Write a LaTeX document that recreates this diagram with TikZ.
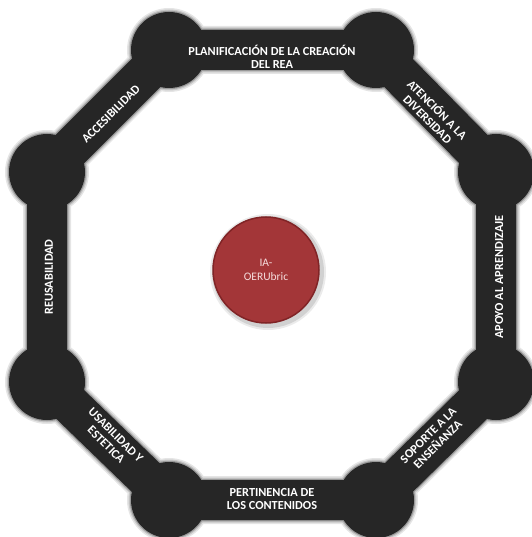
\documentclass[tikz,border=0pt]{standalone}
\usepackage{fontspec}
\setmainfont{Carlito}
\definecolor{ringc}{RGB}{38,38,38}
\definecolor{hubc}{RGB}{163,54,56}
\definecolor{hubedge}{RGB}{128,36,38}
\definecolor{hubtext}{RGB}{245,220,220}
\tikzset{
  vtx/.style={circle,inner sep=0pt,minimum size=76pt},
  band/.style={line width=40pt,line cap=round},
  lbl/.style={text=white,font=\bfseries\fontsize{12.3}{13.5}\selectfont,align=center,inner sep=0pt},
}
\begin{document}
\begin{tikzpicture}[x=1pt,y=-1pt]
\useasboundingbox (0,0) rectangle (531,537);
\node[vtx] (v1) at (169,50) {};
\node[vtx] (v2) at (376,50) {};
\node[vtx] (v3) at (496,172) {};
\node[vtx] (v4) at (496,382) {};
\node[vtx] (v5) at (376,500) {};
\node[vtx] (v6) at (169,500) {};
\node[vtx] (v7) at (47,382) {};
\node[vtx] (v8) at (47,172) {};
% soft shadow layers
\foreach \w/\c in {8/10,5/22,2.5/40}{
  \begin{scope}[shift={(1.5,1.5)}]
  \draw[line width=40pt+\w pt,black!\c,line join=round] (v1.center) -- (v2.center) -- (v3.center) -- (v4.center) -- (v5.center) -- (v6.center) -- (v7.center) -- (v8.center) -- cycle;
  \foreach \v in {v1,v2,v3,v4,v5,v6,v7,v8}{\fill[black!\c] (\v.center) circle[radius=38pt+0.5*\w pt];}
  \end{scope}
}
% ring
\draw[band,ringc,line join=round] (v1.center) -- (v2.center) -- (v3.center) -- (v4.center) -- (v5.center) -- (v6.center) -- (v7.center) -- (v8.center) -- cycle;
\foreach \v in {v1,v2,v3,v4,v5,v6,v7,v8}{\fill[ringc] (\v.center) circle[radius=38pt];}
% hub shadow
\fill[black!8] (268,272) circle[radius=58pt];
\fill[black!18] (268,272) circle[radius=56pt];
\node[circle,fill=hubc,draw=hubedge,line width=1.5pt,minimum size=106pt,inner sep=0pt,text=hubtext,font=\fontsize{11.5}{13.5}\selectfont,align=center] (hub) at (266,270) {IA-\\OERUbric};
% labels
\node[lbl] (l1) at (272,57) {PLANIFICACIÓN DE LA CREACIÓN\\DEL REA};
\node[lbl,rotate=-45] (l2) at (433,114) {ATENCIÓN A LA\\DIVERSIDAD};
\node[lbl,rotate=90] (l3) at (499,277) {APOYO AL APRENDIZAJE};
\node[lbl,rotate=45] (l4) at (433,440) {SOPORTE A LA\\ENSEÑANZA};
\node[lbl] (l5) at (272,499) {PERTINENCIA DE\\LOS CONTENIDOS};
\node[lbl,rotate=-45] (l6) at (111,440) {USABILIDAD Y\\ESTETICA};
\node[lbl,rotate=90] (l7) at (49,277) {REUSABILIDAD};
\node[lbl,rotate=45] (l8) at (111,114) {ACCESIBILIDAD};
\end{tikzpicture}
\end{document}
